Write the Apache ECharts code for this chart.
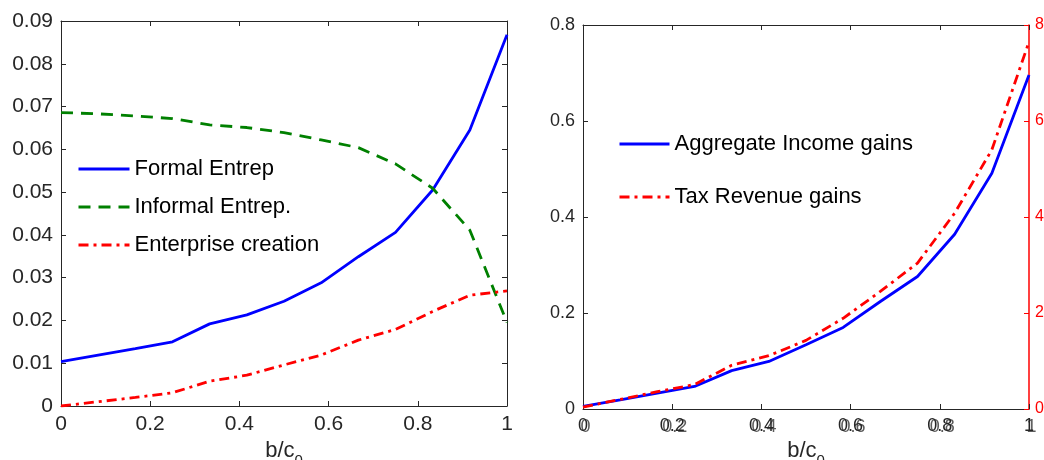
<!DOCTYPE html>
<html><head><meta charset="utf-8">
<script src="https://cdn.jsdelivr.net/npm/echarts@6/dist/echarts.min.js"></script>
<style>html,body{margin:0;padding:0;background:#fff}#c{width:1044px;height:460px}</style>
</head><body><div id="c"></div>
<script>
// b/c0 grid
var bValues = [0, 0.0833, 0.1667, 0.25, 0.3333, 0.4167, 0.5, 0.5833, 0.6667, 0.75, 0.8333, 0.9167, 1];
// Left panel
var formalEntrep = [0.0104, 0.0119, 0.0134, 0.0150, 0.0192, 0.0213, 0.0245, 0.0288, 0.0349, 0.0406, 0.0505, 0.0645, 0.0868];
var informalEntrep = [0.0686, 0.0683, 0.0678, 0.0672, 0.0657, 0.0651, 0.0639, 0.0622, 0.0604, 0.0566, 0.0509, 0.0411, 0.0195];
var enterpriseCreation = [0.0000, 0.0010, 0.0020, 0.0031, 0.0058, 0.0072, 0.0096, 0.0119, 0.0154, 0.0179, 0.0221, 0.0259, 0.0269];
// Right panel
var incomeGains = [0.0056, 0.019, 0.033, 0.047, 0.080, 0.099, 0.134, 0.170, 0.224, 0.276, 0.364, 0.491, 0.696];
var taxGains = [0.04, 0.20, 0.36, 0.51, 0.91, 1.11, 1.43, 1.89, 2.45, 3.04, 4.08, 5.40, 7.65];
var leftNames = ['Formal Entrep', 'Informal Entrep.', 'Enterprise creation'];
var rightNames = ['Aggregate Income gains', 'Tax Revenue gains'];

function pairs(ys){ return bValues.map(function(x,i){ return [x, ys[i]]; }); }

var AX = '#262626';
var FONT = 'Liberation Sans, Arial, Helvetica, sans-serif';
var xName = '{a|b/c}{s|0}';
function nameStyle(sz){
  return {rich:{a:{fontSize:sz, fontFamily:FONT, color:AX, verticalAlign:'top', lineHeight:sz+2},
                s:{fontSize:Math.round(sz*0.7), fontFamily:FONT, color:AX, verticalAlign:'top', padding:[Math.round(sz*0.6),0,0,0], lineHeight:sz+2}}};
}
function boxX(grid, pos){
  return {type:'value', gridIndex:grid, position:pos, min:0, max:1, interval:0.2,
    axisLine:{show:true, onZero:false, lineStyle:{color:AX, width:1}},
    axisTick:{show:true, inside:true, length:5, lineStyle:{color:AX}},
    axisLabel:{show:false}, splitLine:{show:false}};
}
function boxY(grid, pos, min, max, interval){
  return {type:'value', gridIndex:grid, position:pos, min:min, max:max, interval:interval,
    axisLine:{show:true, onZero:false, lineStyle:{color:AX, width:1}},
    axisTick:{show:true, inside:true, length:5, lineStyle:{color:AX}},
    axisLabel:{show:false}, splitLine:{show:false}};
}

var xl0 = boxX(0,'bottom');
xl0.axisLabel = {show:true, fontSize:21, fontFamily:FONT, color:AX, margin:8};
xl0.name = xName; xl0.nameLocation = 'middle'; xl0.nameGap = 27; xl0.nameTextStyle = nameStyle(22);
var xl1 = boxX(0,'top');
var xr0 = boxX(1,'bottom');
xr0.axisLabel = {show:true, fontSize:18, fontFamily:FONT, color:AX, margin:8};
xr0.name = xName; xr0.nameLocation = 'middle'; xr0.nameGap = 24; xr0.nameTextStyle = nameStyle(22);
var xr1 = boxX(1,'top');
var xrGhost = {type:'value', gridIndex:1, position:'bottom', min:0, max:1, interval:0.2,
  axisLine:{show:false}, axisTick:{show:false}, splitLine:{show:false},
  axisLabel:{show:true, fontSize:18, fontFamily:FONT, color:'rgba(38,38,38,0.75)', margin:9, padding:[0,0,0,5]}};

var yl0 = boxY(0,'left',0,0.09,0.01);
yl0.axisLabel = {show:true, fontSize:21, fontFamily:FONT, color:AX, margin:8,
  formatter:function(v){ return v===0 ? '0' : v.toFixed(2); }};
var yl1 = boxY(0,'right',0,0.09,0.01);
var yr0 = boxY(1,'left',0,0.8,0.2);
yr0.axisLabel = {show:true, fontSize:18, fontFamily:FONT, color:AX, margin:8,
  formatter:function(v){ return v===0 ? '0' : String(+v.toFixed(1)); }};
var yr1 = boxY(1,'right',0,8,2);
yr1.axisLine.lineStyle = {color:'#ff0000', width:1.5};
yr1.axisTick.lineStyle = {color:'#ff0000'};
yr1.axisLabel = {show:true, fontSize:16, fontFamily:FONT, color:'#ff0000', margin:6};

var BLUE = '#0000ff', GREEN = '#008000', RED = '#ff0000';
function line(name, data, color, type, xi, yi){
  return {name:name, type:'line', data:pairs(data), xAxisIndex:xi, yAxisIndex:yi,
    symbol:'none', showSymbol:false, animation:false, silent:true, z:3,
    lineStyle:{color:color, width:2.8, type:type}, itemStyle:{color:color}};
}
var DASH = [12,8], DASHDOT = [10,5,3,5];

var option = {
  backgroundColor:'#fff',
  animation:false,
  grid:[
    {left:61, right:537, top:21, bottom:54, outerBoundsMode:'none', containLabel:false},
    {left:583, right:15, top:25, bottom:51, outerBoundsMode:'none', containLabel:false}
  ],
  xAxis:[xl0, xl1, xr0, xr1, xrGhost],
  yAxis:[yl0, yl1, yr0, yr1],
  legend:[
    {data:leftNames, orient:'vertical', left:77, top:158, padding:0, itemWidth:51, itemHeight:22, itemGap:16,
     itemStyle:{opacity:0}, lineStyle:{width:3}, textStyle:{fontSize:22, fontFamily:FONT, color:'#000'}, selectedMode:false},
    {data:rightNames, orient:'vertical', left:618, top:133, padding:0, itemWidth:50, itemHeight:22, itemGap:31,
     itemStyle:{opacity:0}, lineStyle:{width:3}, textStyle:{fontSize:22, fontFamily:FONT, color:'#000'}, selectedMode:false}
  ],
  series:[
    line(leftNames[0], formalEntrep, BLUE, 'solid', 0, 0),
    line(leftNames[1], informalEntrep, GREEN, DASH, 0, 0),
    line(leftNames[2], enterpriseCreation, RED, DASHDOT, 0, 0),
    line(rightNames[0], incomeGains, BLUE, 'solid', 2, 2),
    line(rightNames[1], taxGains, RED, DASHDOT, 2, 3)
  ]
};
var chart = echarts.init(document.getElementById('c'), null, {renderer:'canvas'});
chart.setOption(option);
</script>
</body></html>
